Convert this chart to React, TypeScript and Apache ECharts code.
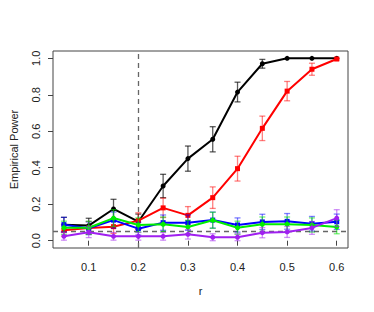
import React, { useEffect, useRef } from "react";
import * as echarts from "echarts";

const rValues = [0.05, 0.1, 0.15, 0.2, 0.25, 0.3, 0.35, 0.4, 0.45, 0.5, 0.55, 0.6];
const xTicks = [0.1, 0.2, 0.3, 0.4, 0.5, 0.6];
const yTicks = [0, 0.2, 0.4, 0.6, 0.8, 1.0];

const blackPower = [0.088, 0.083, 0.174, 0.104, 0.3, 0.45, 0.556, 0.815, 0.97, 1.0, 1.0, 1.0];
const blackErr = [0.04, 0.04, 0.053, 0.042, 0.064, 0.069, 0.069, 0.054, 0.024, 0, 0, 0];
const redPower = [0.057, 0.07, 0.077, 0.11, 0.18, 0.139, 0.236, 0.395, 0.616, 0.82, 0.94, 0.996];
const redErr = [0.032, 0.035, 0.037, 0.043, 0.053, 0.048, 0.059, 0.068, 0.067, 0.053, 0.033, 0.005];
const bluePower = [0.088, 0.068, 0.113, 0.066, 0.099, 0.099, 0.113, 0.086, 0.103, 0.106, 0.093, 0.104];
const blueErr = [0.04, 0.035, 0.044, 0.035, 0.042, 0.042, 0.044, 0.039, 0.042, 0.043, 0.04, 0.042];
const greenPower = [0.071, 0.071, 0.124, 0.086, 0.09, 0.075, 0.112, 0.071, 0.09, 0.09, 0.086, 0.075];
const greenErr = [0.036, 0.036, 0.046, 0.039, 0.04, 0.037, 0.044, 0.036, 0.04, 0.04, 0.039, 0.037];
const purplePower = [0.024, 0.046, 0.024, 0.024, 0.024, 0.035, 0.019, 0.019, 0.044, 0.048, 0.07, 0.124];
const purpleErr = [0.021, 0.029, 0.021, 0.021, 0.021, 0.026, 0.019, 0.019, 0.028, 0.03, 0.035, 0.046];

const nominalLevel = 0.05;
const thresholdR = 0.2;

const seriesDefs = [
  { name: "black", values: blackPower, errs: blackErr, color: "#000000", err: "rgba(0,0,0,0.65)", symbol: "circle" },
  { name: "red", values: redPower, errs: redErr, color: "#ff0000", err: "rgba(255,0,0,0.5)", symbol: "rect" },
  { name: "blue", values: bluePower, errs: blueErr, color: "#0000ff", err: "rgba(0,0,255,0.5)", symbol: "rect" },
  { name: "green", values: greenPower, errs: greenErr, color: "#00ee00", err: "rgba(0,230,0,0.55)", symbol: "circle" },
  { name: "purple", values: purplePower, errs: purpleErr, color: "#a020f0", err: "rgba(160,32,240,0.5)", symbol: "circle" },
];

export default function App() {
  const ref = useRef<HTMLDivElement>(null);
  useEffect(() => {
    if (!ref.current) return;
    const chart = echarts.init(ref.current, null, { renderer: "svg" });
    const font = "Liberation Sans, Arial, sans-serif";
    const series: any[] = [];
    seriesDefs.forEach((s, i) => {
      series.push({
        type: "custom",
        name: s.name + "-err",
        z: 2 + i * 2,
        data: rValues.map((r, k) => [r, s.values[k] - s.errs[k], s.values[k] + s.errs[k]]),
        renderItem: (params: any, api: any) => {
          const x = api.value(0);
          const lo = api.coord([x, api.value(1)]);
          const hi = api.coord([x, api.value(2)]);
          const cap = 3;
          const style = { stroke: s.err, lineWidth: 1.3, fill: "none" };
          if (Math.abs(hi[1] - lo[1]) < 0.5) return null;
          return {
            type: "group",
            children: [
              { type: "line", shape: { x1: lo[0], y1: lo[1], x2: hi[0], y2: hi[1] }, style },
              { type: "line", shape: { x1: lo[0] - cap, y1: lo[1], x2: lo[0] + cap, y2: lo[1] }, style },
              { type: "line", shape: { x1: hi[0] - cap, y1: hi[1], x2: hi[0] + cap, y2: hi[1] }, style },
            ],
          };
        },
      });
      series.push({
        type: "line",
        name: s.name,
        z: 3 + i * 2,
        data: rValues.map((r, k) => [r, s.values[k]]),
        symbol: s.symbol,
        symbolSize: 5,
        showSymbol: true,
        lineStyle: { color: s.color, width: 2 },
        itemStyle: { color: s.color },
        ...(i === 0
          ? {
              markLine: {
                silent: true,
                symbol: "none",
                label: { show: false },
                lineStyle: { color: "#666", type: [5, 4], width: 1.3 },
                data: [{ xAxis: thresholdR }, { yAxis: nominalLevel }],
              },
            }
          : {}),
      });
    });
    chart.setOption({
      animation: false,
      textStyle: { fontFamily: font },
      grid: {
        left: 51,
        right: 26,
        top: 51,
        bottom: 64,
        show: true,
        borderColor: "#444",
        borderWidth: 1,
        backgroundColor: "transparent",
      },
      xAxis: {
        type: "value",
        min: 0.028,
        max: 0.6227,
        name: "r",
        nameLocation: "middle",
        nameGap: 37,
        nameTextStyle: { fontSize: 11, color: "#222", fontFamily: font },
        axisLine: { show: false },
        splitLine: { show: false },
        axisTick: { show: true, length: 5, customValues: xTicks, lineStyle: { color: "#444" } },
        axisLabel: {
          customValues: xTicks,
          fontSize: 11,
          color: "#222",
          margin: 13,
          formatter: (v: number) => v.toFixed(1),
        },
      },
      yAxis: {
        type: "value",
        min: -0.04,
        max: 1.04,
        name: "Empirical Power",
        nameLocation: "middle",
        nameGap: 34,
        nameRotate: 90,
        nameTextStyle: { fontSize: 11, color: "#222", fontFamily: font },
        axisLine: { show: false },
        splitLine: { show: false },
        axisTick: { show: true, length: 5, customValues: yTicks, lineStyle: { color: "#444" } },
        axisLabel: {
          customValues: yTicks,
          fontSize: 11,
          color: "#222",
          rotate: 90,
          margin: 12,
          formatter: (v: number) => v.toFixed(1),
        },
      },
      series,
    });
    return () => chart.dispose();
  }, []);
  return <div ref={ref} style={{ width: 374, height: 312, margin: -8 }} />;
}
